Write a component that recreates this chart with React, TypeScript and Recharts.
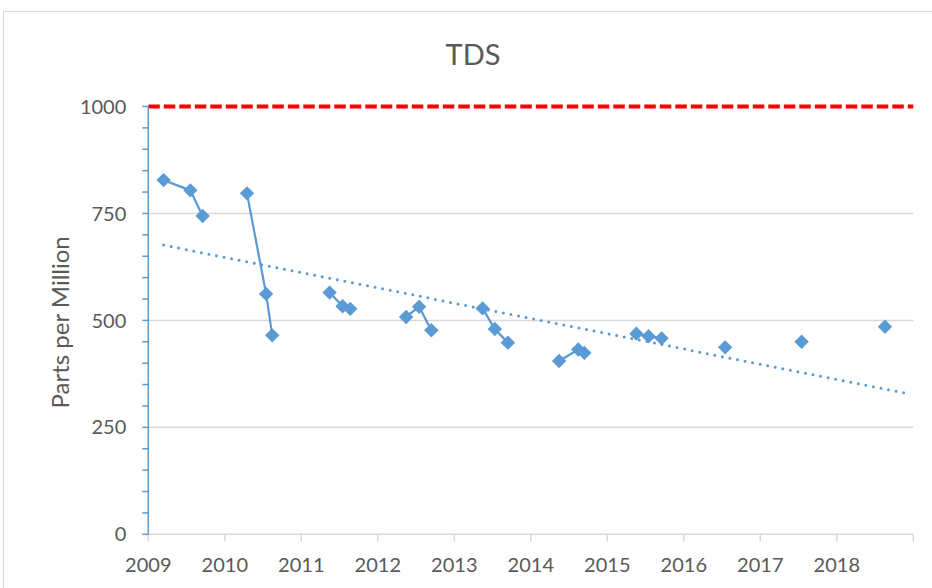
import React from 'react';
import { LineChart, Line, XAxis, YAxis, CartesianGrid, ReferenceLine } from 'recharts';

// sample dates as decimal years
const sampleYears = [
  2009.2, 2009.55, 2009.71, 2010.29, 2010.54, 2010.62, 2011.37, 2011.54, 2011.64,
  2012.37, 2012.54, 2012.7, 2013.37, 2013.53, 2013.7, 2014.37, 2014.62, 2014.7,
  2015.38, 2015.54, 2015.71, 2016.54, 2017.54, 2018.63,
];
const tdsPpm = [
  828, 804, 744, 797, 562, 465, 565, 533, 527,
  508, 532, 477, 528, 480, 448, 405, 432, 424,
  469, 463, 458, 437, 450, 485,
];
// consecutive samples that Excel joined with a line (blank cells in between)
const sampleRuns = [1, 1, 1, 2, 2, 2, 3, 3, 3, 4, 4, 4, 5, 5, 5, 6, 6, 6, 7, 7, 7, 8, 9, 10];

const trendYears = [2009.2, 2018.92];
const trendPpm = [676, 329];

const limitPpm = 1000;

const yearTicks = [2009, 2010, 2011, 2012, 2013, 2014, 2015, 2016, 2017, 2018, 2019];
const ppmTicks = [0, 50, 100, 150, 200, 250, 300, 350, 400, 450, 500, 550, 600, 650, 700, 750, 800, 850, 900, 950, 1000];
const ppmGrid = [250, 500, 750];

const BLUE = '#5B9BD5';
const GREY = '#D9D9D9';
const TEXT = '#595959';
const FONT = 'Lato, "Open Sans", sans-serif';

const runs: { year: number; tds: number }[][] = [];
sampleYears.forEach((year, i) => {
  const prev = i > 0 ? sampleRuns[i - 1] : null;
  if (prev !== sampleRuns[i]) runs.push([]);
  runs[runs.length - 1].push({ year, tds: tdsPpm[i] });
});
const trendData = trendYears.map((year, i) => ({ year, trend: trendPpm[i] }));

const Diamond = (props: any) => {
  const { cx, cy } = props;
  if (cx == null || cy == null) return <g />;
  const r = 7.2;
  return <path d={`M${cx} ${cy - r}L${cx + r} ${cy}L${cx} ${cy + r}L${cx - r} ${cy}Z`} fill={BLUE} />;
};

const YLabel = (props: any) => {
  const vb = props.viewBox;
  const cx = vb.x + 60;
  const cy = vb.y + vb.height / 2 + 2;
  return (
    <text x={cx} y={cy} transform={`rotate(-90 ${cx} ${cy})`} textAnchor="middle" dominantBaseline="central"
      fill={TEXT} fontSize={24} fontFamily={FONT}>
      Parts per Million
    </text>
  );
};

export default function App() {
  return (
    <div style={{ position: 'absolute', left: 0, top: 0, width: 932, height: 588, overflow: 'hidden', background: '#fff', fontFamily: FONT }}>
      <div style={{ position: 'absolute', left: 3, top: 11, width: 950, height: 600, border: `1px solid ${GREY}` }} />
      <div style={{ position: 'absolute', left: 3, top: 36, width: 940, textAlign: 'center', fontSize: 29, color: TEXT }}>TDS</div>
      <LineChart width={932} height={588} margin={{ top: 106.5, right: 18.7, bottom: 13.7, left: 0 }}
        style={{ position: 'absolute', left: 0, top: 0 }}>
        <CartesianGrid vertical={false} horizontalValues={ppmGrid} stroke={GREY} strokeWidth={1.5} yAxisId="ppm" />
        <XAxis dataKey="year" type="number" domain={[2009, 2019]} ticks={yearTicks} interval={0}
          allowDuplicatedCategory={false}
          tickFormatter={(v: number) => (v === 2019 ? '' : String(v))}
          height={40} tickSize={7} tickMargin={16}
          axisLine={{ stroke: GREY, strokeWidth: 1.5 }} tickLine={{ stroke: GREY, strokeWidth: 1.5 }}
          tick={{ fill: TEXT, fontSize: 20, fontFamily: FONT }} />
        <YAxis yAxisId="ppm" type="number" domain={[0, 1000]} ticks={ppmTicks} interval={0} width={148.3}
          tickFormatter={(v: number) => (v % 250 === 0 ? String(v) : '')}
          tickSize={6} tickMargin={16}
          axisLine={{ stroke: BLUE, strokeWidth: 1.5 }} tickLine={{ stroke: BLUE, strokeWidth: 1.5 }}
          tick={{ fill: TEXT, fontSize: 20, fontFamily: FONT }}
          label={{ content: YLabel }} />
        <ReferenceLine yAxisId="ppm" y={limitPpm} stroke="#FF0000" strokeWidth={4} strokeDasharray="11.5 4" />
        <Line yAxisId="ppm" data={trendData} dataKey="trend" type="linear" stroke={BLUE} strokeWidth={3}
          strokeDasharray="0 7.7" strokeLinecap="round" dot={false} activeDot={false} isAnimationActive={false} />
        {runs.map((run, i) => (
          <Line key={i} yAxisId="ppm" data={run} dataKey="tds" type="linear" stroke={BLUE} strokeWidth={2.25}
            dot={<Diamond />} activeDot={false} isAnimationActive={false} />
        ))}
      </LineChart>
    </div>
  );
}
